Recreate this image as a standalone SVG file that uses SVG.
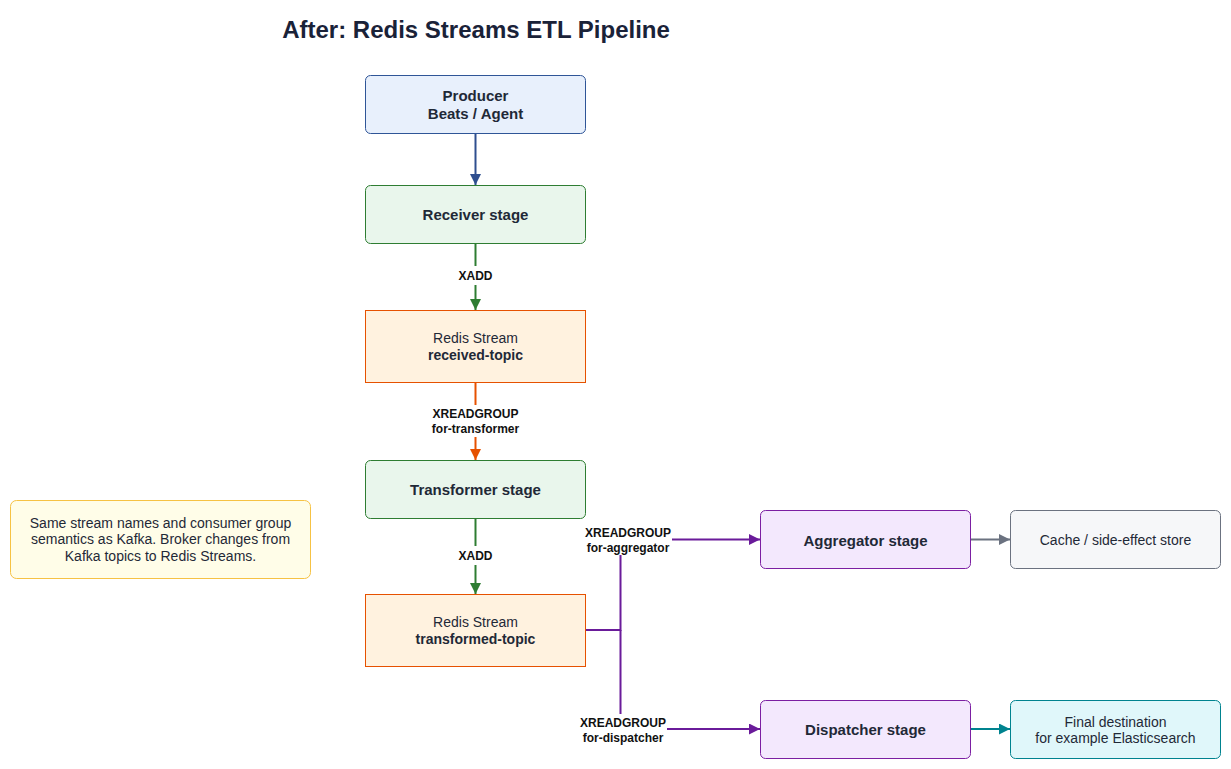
<svg xmlns="http://www.w3.org/2000/svg" width="1231" height="769" viewBox="0 0 1231 769">
<style>
text{font-family:"Liberation Sans",Arial,sans-serif;text-anchor:middle}
.title{font-size:24px;font-weight:bold;fill:#1a2238}
.nb{font-size:15px;font-weight:bold;fill:#1f2937}
.nr{font-size:14px;fill:#1f2937}
.el{font-size:12px;font-weight:bold;fill:#111}
.note{font-size:14px;fill:#1f2937}
.edge{fill:none;stroke-width:2}
.lbg{fill:#fff}
</style>
<defs>
<marker id="mBlue" viewBox="0 0 10 10" refX="10" refY="5" markerWidth="11" markerHeight="11" markerUnits="userSpaceOnUse" orient="auto"><path d="M0,0L10,5L0,10z" fill="#2f4f8f"/></marker>
<marker id="mGreen" viewBox="0 0 10 10" refX="10" refY="5" markerWidth="11" markerHeight="11" markerUnits="userSpaceOnUse" orient="auto"><path d="M0,0L10,5L0,10z" fill="#2e7d32"/></marker>
<marker id="mOrange" viewBox="0 0 10 10" refX="10" refY="5" markerWidth="11" markerHeight="11" markerUnits="userSpaceOnUse" orient="auto"><path d="M0,0L10,5L0,10z" fill="#e65100"/></marker>
<marker id="mPurple" viewBox="0 0 10 10" refX="10" refY="5" markerWidth="11" markerHeight="11" markerUnits="userSpaceOnUse" orient="auto"><path d="M0,0L10,5L0,10z" fill="#6a1b9a"/></marker>
<marker id="mGray" viewBox="0 0 10 10" refX="10" refY="5" markerWidth="11" markerHeight="11" markerUnits="userSpaceOnUse" orient="auto"><path d="M0,0L10,5L0,10z" fill="#6b7280"/></marker>
<marker id="mTeal" viewBox="0 0 10 10" refX="10" refY="5" markerWidth="11" markerHeight="11" markerUnits="userSpaceOnUse" orient="auto"><path d="M0,0L10,5L0,10z" fill="#00838f"/></marker>
</defs>
<rect width="1231" height="769" fill="#fff"/>
<text class="title" x="476" y="38">After: Redis Streams ETL Pipeline</text>

<g id="connectors">
<path class="edge" d="M475.5,133.5V185" stroke="#2f4f8f" marker-end="url(#mBlue)"/>
<path class="edge" d="M475.5,243.5V310" stroke="#2e7d32" marker-end="url(#mGreen)"/>
<rect class="lbg" x="452" y="266" width="46" height="19"/>
<text class="el" x="475.5" y="280">XADD</text>
<path class="edge" d="M475.5,382.5V460" stroke="#e65100" marker-end="url(#mOrange)"/>
<rect class="lbg" x="428" y="405" width="95" height="32"/>
<text class="el" x="475.5" y="418">XREADGROUP</text>
<text class="el" x="475.5" y="433">for-transformer</text>
<path class="edge" d="M475.5,518.5V594" stroke="#2e7d32" marker-end="url(#mGreen)"/>
<rect class="lbg" x="452" y="546" width="46" height="19"/>
<text class="el" x="475.5" y="560">XADD</text>
<path class="edge" d="M585.5,630H620.5V539.5H760" stroke="#6a1b9a" marker-end="url(#mPurple)"/>
<path class="edge" d="M620.5,630V729H760" stroke="#6a1b9a" marker-end="url(#mPurple)"/>
<rect class="lbg" x="584" y="524" width="88" height="31"/>
<text class="el" x="628" y="537">XREADGROUP</text>
<text class="el" x="628" y="552">for-aggregator</text>
<rect class="lbg" x="578" y="714" width="89" height="31"/>
<text class="el" x="623" y="727">XREADGROUP</text>
<text class="el" x="623" y="742">for-dispatcher</text>
<path class="edge" d="M970.5,539.5H1010" stroke="#6b7280" marker-end="url(#mGray)"/>
<path class="edge" d="M970.5,729H1010" stroke="#00838f" marker-end="url(#mTeal)"/>
</g>

<g id="producer">
<rect x="365.5" y="75.5" width="220" height="58" rx="5" fill="#e8f0fc" stroke="#2f5597"/>
<text class="nb" x="475.5" y="101">Producer</text>
<text class="nb" x="475.5" y="119">Beats / Agent</text>
</g>
<g id="receiver">
<rect x="365.5" y="185.5" width="220" height="58" rx="5" fill="#e9f6ec" stroke="#2e7d32"/>
<text class="nb" x="475.5" y="220">Receiver stage</text>
</g>
<g id="received-topic">
<rect x="365.5" y="310.5" width="220" height="72" fill="#fff2df" stroke="#e65100"/>
<text class="nr" x="475.5" y="343">Redis Stream</text>
<text class="nb" x="475.5" y="360" style="font-size:14px">received-topic</text>
</g>
<g id="transformer">
<rect x="365.5" y="460.5" width="220" height="58" rx="5" fill="#e9f6ec" stroke="#2e7d32"/>
<text class="nb" x="475.5" y="495">Transformer stage</text>
</g>
<g id="transformed-topic">
<rect x="365.5" y="594.5" width="220" height="72" fill="#fff2df" stroke="#e65100"/>
<text class="nr" x="475.5" y="627">Redis Stream</text>
<text class="nb" x="475.5" y="644" style="font-size:14px">transformed-topic</text>
</g>
<g id="aggregator">
<rect x="760.5" y="510.5" width="210" height="58" rx="5" fill="#f3e8fd" stroke="#7b1fa2"/>
<text class="nb" x="865.5" y="546">Aggregator stage</text>
</g>
<g id="cache">
<rect x="1010.5" y="510.5" width="210" height="58" rx="5" fill="#f6f7f9" stroke="#6b7280"/>
<text class="nr" x="1115.5" y="544.5">Cache / side-effect store</text>
</g>
<g id="dispatcher">
<rect x="760.5" y="700.5" width="210" height="58" rx="5" fill="#f3e8fd" stroke="#7b1fa2"/>
<text class="nb" x="865.5" y="735">Dispatcher stage</text>
</g>
<g id="destination">
<rect x="1010.5" y="700.5" width="210" height="58" rx="5" fill="#e0f7fa" stroke="#00838f"/>
<text class="nr" x="1115.5" y="726.5">Final destination</text>
<text class="nr" x="1115.5" y="743">for example Elasticsearch</text>
</g>
<g id="note">
<rect x="10.5" y="500.5" width="300" height="78" rx="6" fill="#fffde8" stroke="#f6c244"/>
<text class="note" x="160.5" y="527.5">Same stream names and consumer group</text>
<text class="note" x="160.5" y="544.2">semantics as Kafka. Broker changes from</text>
<text class="note" x="160.5" y="561">Kafka topics to Redis Streams.</text>
</g>
</svg>
